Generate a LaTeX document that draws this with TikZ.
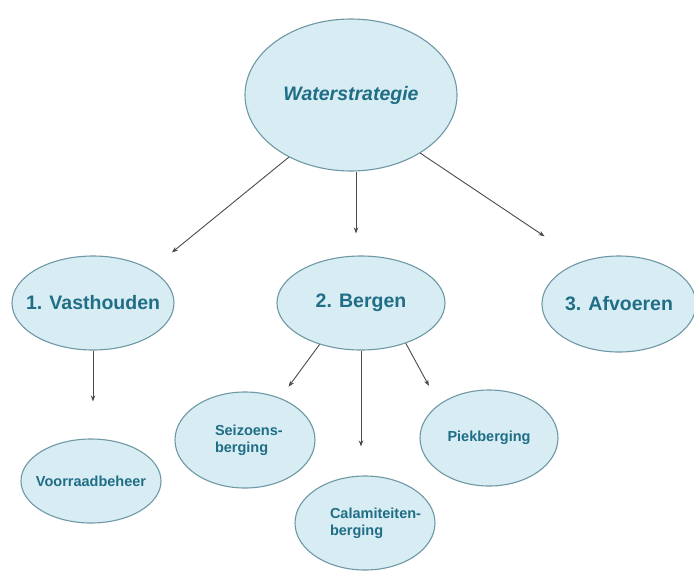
\documentclass[tikz,border=0pt]{standalone}
\usepackage{fontspec}
\setmainfont{Liberation Sans}
\usetikzlibrary{shapes.geometric,arrows.meta}
\definecolor{ellfill}{HTML}{D8ECF4}
\definecolor{elldraw}{HTML}{6E98A4}
\definecolor{elltext}{HTML}{1F6E86}
\definecolor{arrcol}{HTML}{4A4A4A}
\newcommand{\zwbox}[1]{\makebox[0pt][c]{#1}}
\tikzset{
  ell/.style={ellipse, draw=elldraw, fill=ellfill, line width=1.1pt, inner sep=0pt,
              text=elltext, font=\bfseries\fontsize{19.5}{22}\selectfont},
  ellsmall/.style={ell, font=\bfseries\fontsize{14.5}{17}\selectfont},
  arr/.style={draw=arrcol, line width=0.9pt, -{Stealth[length=6pt,width=4.5pt]}},
}
\begin{document}
\begin{tikzpicture}[x=1pt,y=-1pt]
\useasboundingbox (0,0) rectangle (694,571);
\node[ell, minimum width=212pt, minimum height=152pt] (w) at (351,95) {\zwbox{\itshape Waterstrategie}};
\node[ell, minimum width=162pt, minimum height=94pt] (v) at (93,303) {\zwbox{1. Vasthouden}};
\node[ell, minimum width=168pt, minimum height=94pt] (b) at (361,303) {\zwbox{2. Bergen}};
\node[ell, minimum width=154pt, minimum height=96pt] (a) at (619,304) {\zwbox{3. Afvoeren}};
\node[ellsmall, minimum width=140pt, minimum height=84pt] (vr) at (91,481) {\zwbox{Voorraadbeheer}};
\node[ellsmall, minimum width=140pt, minimum height=96pt, align=left, text width=60pt] (s) at (245,440) {\mbox{Seizoens-}\\berging};
\node[ellsmall, minimum width=140pt, minimum height=94pt, align=left, text width=70pt] (c) at (365,523) {\mbox{Calamiteiten-}\\berging};
\node[ellsmall, minimum width=138pt, minimum height=96pt] (p) at (489,438) {\zwbox{Piekberging}};

\draw[arr, shorten >=27pt] (w.225) -- (v.30);
\draw[arr, shorten >=22pt] ([xshift=5pt]w.south) -- ([xshift=-5pt]b.north);
\draw[arr, shorten >=45pt] (w.-40) -- (a.131);
\draw[arr, shorten >=37pt] (v.south) -- (v.south |- vr.north);
\draw[arr, shorten >=14pt] (b.225) -- (s.50);
\draw[arr, shorten >=29pt] (b.south) -- (b.south |- c.north);
\draw[arr, shorten >=21pt] (b.-42) -- (p.146);
\end{tikzpicture}
\end{document}
